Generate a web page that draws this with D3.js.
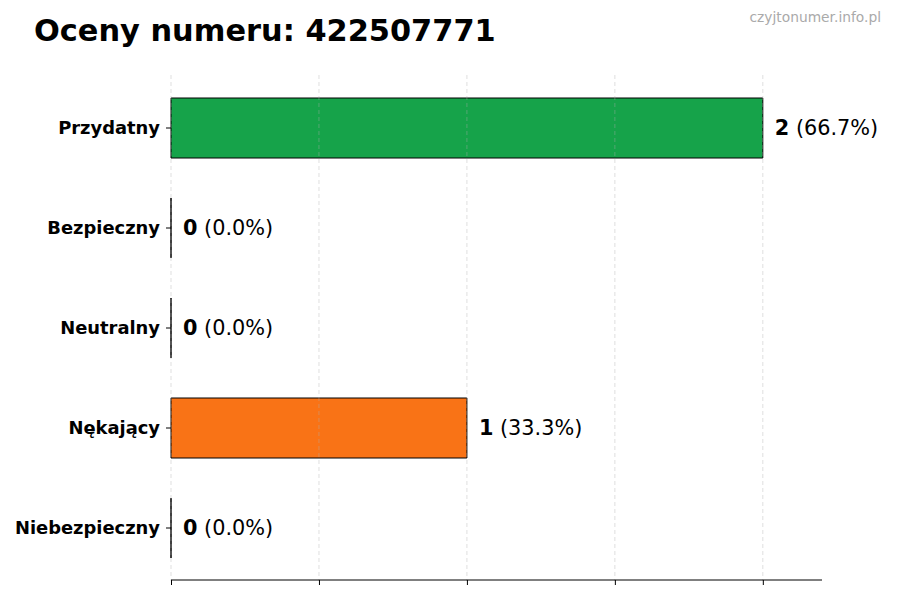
<!DOCTYPE html>
<html>
<head>
<meta charset="utf-8">
<script src="https://cdn.jsdelivr.net/npm/d3@7"></script>
<style>
body { margin: 0; background: #fff; }
text { font-family: "DejaVu Sans", sans-serif; }
</style>
</head>
<body>
<div class="chart"></div>
<script>
var categories = ["Przydatny", "Bezpieczny", "Neutralny", "Nękający", "Niebezpieczny"];
var counts = [2, 0, 0, 1, 0];
var percents = ["66.7%", "0.0%", "0.0%", "33.3%", "0.0%"];
var colors = ["#16a34a", "#2563eb", "#9ca3af", "#f97316", "#dc2626"];
var xTicks = [0, 0.5, 1, 1.5, 2];

var width = 900, height = 600;
var plotLeft = 171, plotRight = 822, plotTop = 75, plotBottom = 581;

var svg = d3.select(".chart").append("svg").attr("width", width).attr("height", height);

var x = d3.scaleLinear().domain([0, d3.max(counts) * 1.1]).range([plotLeft, plotRight]);
// categories sit at 0..4, limits -0.53..4.53 as matplotlib would do
var y = d3.scaleLinear().domain([-0.53, categories.length - 1 + 0.53]).range([plotTop, plotBottom]);
var barH = y(0.6) - y(0);

// title + watermark
svg.append("text").attr("x", 34).attr("y", 41)
	.style("font-size", "30.4px").style("font-weight", "bold").attr("fill", "#000")
	.text("Oceny numeru: 422507771");
svg.append("text").attr("x", 881).attr("y", 22).attr("text-anchor", "end")
	.style("font-size", "13.8px").attr("fill", "#aaa")
	.text("czyjtonumer.info.pl");

// bars as paths so zero-width ones still show their edge
svg.selectAll("path.bar").data(categories).enter().append("path")
	.attr("class", "bar")
	.attr("d", function(d, i){
		var y0 = y(i) - barH / 2, x0 = x(0), x1 = x(counts[i]);
		return "M" + x0 + "," + y0 + "H" + x1 + "V" + (y0 + barH) + "H" + x0 + "Z";
	})
	.attr("fill", function(d, i){ return colors[i]; })
	.attr("stroke", "#000")
	.attr("stroke-width", 1);

// grid on top, faint
svg.selectAll("line.grid").data(xTicks).enter().append("line")
	.attr("class", "grid")
	.attr("x1", function(d){ return x(d); }).attr("x2", function(d){ return x(d); })
	.attr("y1", plotTop).attr("y2", plotBottom)
	.attr("stroke", "#b0b0b0").attr("stroke-opacity", 0.5)
	.attr("stroke-dasharray", "4,3").attr("stroke-width", 0.8);

// x axis: ticks only, no labels
var xAxis = d3.axisBottom(x).tickValues(xTicks).tickFormat("").tickSize(5).tickSizeOuter(0);
var gx = svg.append("g").attr("transform", "translate(0," + (plotBottom - 1) + ")").call(xAxis);
gx.select(".domain").attr("stroke", "#000").attr("d", "M" + plotLeft + ",0H" + plotRight);
gx.selectAll(".tick line").attr("stroke", "#000");

// y ticks + labels
var gy = svg.append("g");
gy.selectAll("line").data(categories).enter().append("line")
	.attr("x1", plotLeft - 5).attr("x2", plotLeft)
	.attr("y1", function(d, i){ return y(i); }).attr("y2", function(d, i){ return y(i); })
	.attr("stroke", "#000");
gy.selectAll("text").data(categories).enter().append("text")
	.attr("x", plotLeft - 11)
	.attr("y", function(d, i){ return y(i); })
	.attr("dy", "0.36em")
	.attr("text-anchor", "end")
	.style("font-size", "17.9px").style("font-weight", "bold")
	.text(function(d){ return d; });

// value labels
var vl = svg.selectAll("text.val").data(categories).enter().append("text")
	.attr("class", "val")
	.attr("x", function(d, i){ return x(counts[i]) + 12; })
	.attr("y", function(d, i){ return y(i); })
	.attr("dy", "0.36em")
	.style("font-size", "20.8px");
vl.append("tspan").style("font-weight", "bold").text(function(d, i){ return counts[i]; });
vl.append("tspan").text(function(d, i){ return " (" + percents[i] + ")"; });
</script>
</body>
</html>
